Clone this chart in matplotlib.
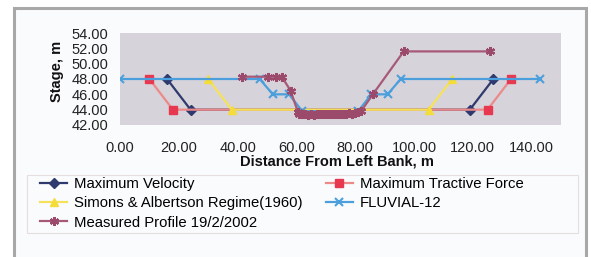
import matplotlib.pyplot as plt
from matplotlib.patches import Rectangle

plt.rcParams['font.family'] = ['Liberation Sans', 'DejaVu Sans']

# channel profiles, distance from left bank (m) vs stage (m)
max_vel_x = [16, 24, 119, 127]
max_vel_y = [48, 44, 44, 48]

tractive_x = [10, 18, 125, 133]
tractive_y = [48, 44, 44, 48]

simons_x = [30, 38, 105, 113]
simons_y = [48, 44, 44, 48]

fluvial_x = [0, 47.5, 52, 57.5, 62, 81, 85.5, 91, 95.5, 143]
fluvial_y = [48, 48, 46, 46, 43.8, 43.8, 46, 46, 48, 48]

measured_x = [41.5, 50.5, 53, 55, 58, 60.5, 61, 62, 63, 64, 65, 66, 67, 68, 69, 70,
              71, 72, 73, 74, 75, 76, 77, 78, 79, 80, 81, 82, 86, 96.5, 126]
measured_y = [48.3, 48.3, 48.3, 48.3, 46.5, 43.7, 43.5, 43.4, 43.4, 43.3, 43.4, 43.3,
              43.4, 43.4, 43.4, 43.5, 43.4, 43.5, 43.4, 43.5, 43.5, 43.5, 43.5, 43.6,
              43.5, 43.6, 43.7, 43.8, 46.0, 51.6, 51.6]

x_ticks = [0, 20, 40, 60, 80, 100, 120, 140]
y_ticks = [42, 44, 46, 48, 50, 52, 54]

W, H = 591, 257
fig = plt.figure(figsize=(W / 100, H / 100), dpi=100)
fig.patch.set_facecolor('white')

# outer frame of the figure panel
fig.patches.append(Rectangle((14 / W, -0.05), 572 / W, 1 - 8 / H + 0.05,
                             transform=fig.transFigure, facecolor='#fafbfd',
                             edgecolor='#a8a8a8', linewidth=2.2, zorder=-10))
# legend box
fig.patches.append(Rectangle((27 / W, 1 - 233 / H), 551 / W, 58 / H,
                             transform=fig.transFigure, facecolor='none',
                             edgecolor='#e6dede', linewidth=0.8, zorder=-9))

ax = fig.add_axes([120 / W, 1 - 125 / H, 441 / W, 92 / H])
ax.set_facecolor('#d7d3da')

ax.plot(max_vel_x, max_vel_y, color='#2e3a6e', lw=1.6, marker='D', ms=5,
        mfc='#2e3a6e', mec='#2e3a6e', label='Maximum Velocity')
ax.plot(tractive_x, tractive_y, color='#ec8a8a', lw=1.6, marker='s', ms=6,
        mfc='#e8384f', mec='#e8384f', label='Maximum Tractive Force')
ax.plot(simons_x, simons_y, color='#f6e25a', lw=1.6, marker='^', ms=6,
        mfc='#f4dc3a', mec='#f4dc3a', label='Simons & Albertson Regime(1960)')
ax.plot(fluvial_x, fluvial_y, color='#4b9fdc', lw=1.6, marker='x', ms=6,
        mew=1.5, label='FLUVIAL-12')
ax.plot(measured_x, measured_y, color='#a65a78', lw=1.6, marker=(6, 2, 0), ms=6.5,
        mew=1.6, mec='#9c4a6c', label='Measured Profile 19/2/2002')

ax.set_xlim(0, 150)
ax.set_ylim(42, 54)
ax.set_xticks(x_ticks)
ax.set_yticks(y_ticks)
ax.set_xticklabels(['%.2f' % v for v in x_ticks], fontsize=10.5, color='#222222')
ax.set_yticklabels(['%.2f' % v for v in y_ticks], fontsize=10.5, color='#222222')
ax.tick_params(axis='both', length=0)
ax.tick_params(axis='x', pad=11.5)
ax.tick_params(axis='y', pad=8.6)
for s in ax.spines.values():
    s.set_visible(False)

fig.text(57 / W, 1 - 71 / H, 'Stage, m', rotation=90, fontsize=10.5,
         fontweight='bold', ha='center', va='center', color='#111111')
fig.text(337 / W, 1 - 162 / H, 'Distance From Left Bank, m', fontsize=10.5,
         fontweight='bold', ha='center', va='center', color='#111111')

h, l = ax.get_legend_handles_labels()
order = [0, 2, 4, 1, 3]
fig.legend([h[i] for i in order], [l[i] for i in order], ncol=2,
           loc='upper left', bbox_to_anchor=(40 / W, 1 - 177 / H),
           frameon=False, fontsize=10.7, handlelength=1.85, handletextpad=0.45,
           columnspacing=1.55, labelspacing=0.36, borderpad=0, borderaxespad=0)

fig.savefig('out.png', dpi=100)
